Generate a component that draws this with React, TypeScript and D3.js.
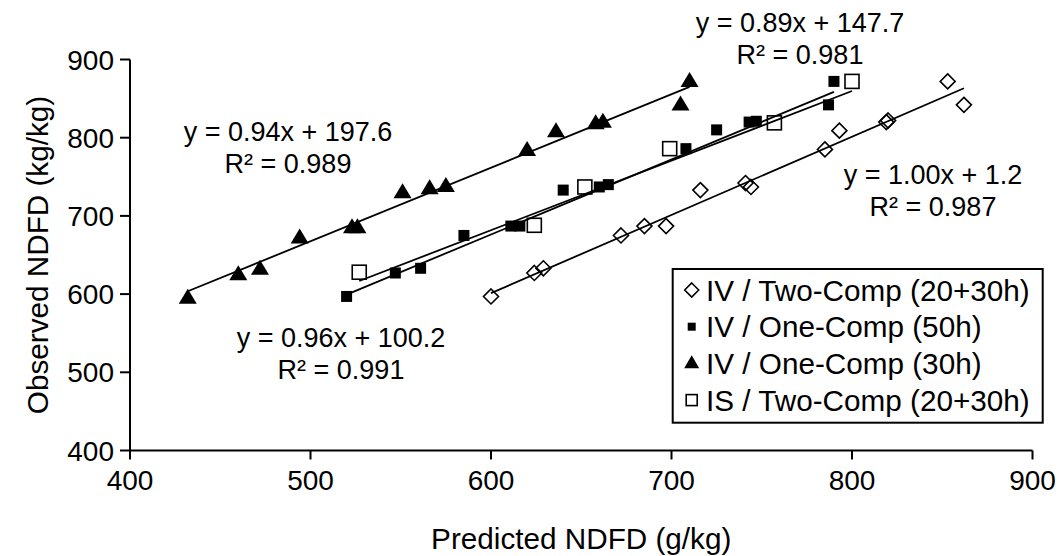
import React from "react";
import * as d3 from "d3";

// ---- data ----
const xTicks = [400, 500, 600, 700, 800, 900];
const yTicks = [400, 500, 600, 700, 800, 900];

const ivTwoComp: [number, number][] = [
  [600, 597], [624, 627], [629, 633], [672, 675], [685, 687], [697, 687], [716, 733],
  [741, 742], [744, 737], [785, 785], [793, 809], [819, 820], [820, 822], [853, 872], [862, 842],
];
const ivOne50: [number, number][] = [
  [520, 597], [547, 627], [561, 633], [585, 675], [611, 687], [616, 687], [640, 733],
  [660, 737], [665, 740], [708, 786], [725, 810], [743, 820], [747, 821], [787, 842], [790, 872],
];
const ivOne30: [number, number][] = [
  [432, 595], [460, 625], [472, 632], [494, 672], [523, 685], [526, 685], [551, 730],
  [566, 735], [575, 738], [620, 784], [636, 808], [658, 818], [662, 820], [705, 842], [710, 872],
];
const isTwoComp: [number, number][] = [
  [527, 628], [624, 688], [652, 737], [699, 786], [757, 819], [800, 872],
];

const seriesNames = [
  "IV / Two-Comp (20+30h)",
  "IV / One-Comp (50h)",
  "IV / One-Comp (30h)",
  "IS / Two-Comp (20+30h)",
];
const slopes = [1.0, 0.96, 0.94, 0.89];
const intercepts = [1.2, 100.2, 197.6, 147.7];
const r2Values = [0.987, 0.991, 0.989, 0.981];

const W = 1062;
const H = 556;
const FONT = "'Liberation Sans', Arial, Helvetica, sans-serif";

const x = d3.scaleLinear().domain([400, 900]).range([130, 1032.5]);
const y = d3.scaleLinear().domain([400, 900]).range([450.5, 59.5]);

type Kind = "diamond" | "fsquare" | "triangle" | "osquare";
const kinds: Kind[] = ["diamond", "fsquare", "triangle", "osquare"];
const allSeries = [ivTwoComp, ivOne50, ivOne30, isTwoComp];

function Marker({ kind, cx, cy, small }: { kind: Kind; cx: number; cy: number; small?: boolean }) {
  if (kind === "diamond") {
    const r = small ? 7 : 7.5;
    return (
      <path
        d={`M${cx},${cy - r}L${cx + r},${cy}L${cx},${cy + r}L${cx - r},${cy}Z`}
        fill="none" stroke="#000" strokeWidth={1.6}
      />
    );
  }
  if (kind === "fsquare") {
    const s = small ? 8 : 11;
    return <rect x={cx - s / 2} y={cy - s / 2} width={s} height={s} fill="#000" />;
  }
  if (kind === "triangle") {
    const w = small ? 15 : 18;
    const h = small ? 13 : 15;
    return (
      <path
        d={`M${cx},${cy - h * 0.62}L${cx + w / 2},${cy + h * 0.38}L${cx - w / 2},${cy + h * 0.38}Z`}
        fill="#000"
      />
    );
  }
  const s = small ? 11 : 14;
  return (
    <rect x={cx - s / 2} y={cy - s / 2} width={s} height={s} fill="none" stroke="#000" strokeWidth={1.6} />
  );
}

const eqPos = [
  { cx: 933, by: 184 },
  { cx: 341, by: 347 },
  { cx: 288, by: 141 },
  { cx: 800, by: 32 },
];

export default function App() {
  return (
    <svg width={W} height={H} style={{ position: "absolute", left: 0, top: 0, background: "#fff" }}
      fontFamily={FONT}>
      <rect x={0} y={0} width={W} height={H} fill="#fff" />
      {/* fit lines */}
      {allSeries.map((pts, i) => {
        const xs = pts.map((p) => p[0]);
        const x0 = d3.min(xs)!;
        const x1 = d3.max(xs)!;
        const f = (v: number) => slopes[i] * v + intercepts[i];
        return (
          <line key={"l" + i} x1={x(x0)} y1={y(f(x0))} x2={x(x1)} y2={y(f(x1))}
            stroke="#000" strokeWidth={1.8} />
        );
      })}
      {/* markers */}
      {allSeries.map((pts, i) =>
        pts.map((p, j) => <Marker key={i + "-" + j} kind={kinds[i]} cx={x(p[0])} cy={y(p[1])} />)
      )}
      {/* axes */}
      <line x1={x(400)} y1={y(400)} x2={x(900)} y2={y(400)} stroke="#000" strokeWidth={2} />
      <line x1={x(400)} y1={y(400)} x2={x(400)} y2={y(900)} stroke="#000" strokeWidth={2} />
      {xTicks.map((t) => (
        <g key={"xt" + t}>
          <line x1={x(t)} x2={x(t)} y1={y(400)} y2={y(400) + 9} stroke="#000" strokeWidth={2} />
          <text x={x(t)} y={490} textAnchor="middle" fontSize={28}>{t}</text>
        </g>
      ))}
      {yTicks.map((t) => (
        <g key={"yt" + t}>
          <line x1={x(400) - 10} x2={x(400)} y1={y(t)} y2={y(t)} stroke="#000" strokeWidth={2} />
          <text x={114} y={y(t) + 10} textAnchor="end" fontSize={28}>{t}</text>
        </g>
      ))}
      <text x={(x(400) + x(900)) / 2} y={549} textAnchor="middle" fontSize={29.7}>Predicted NDFD (g/kg)</text>
      <text transform={`translate(48,${(y(400) + y(900)) / 2}) rotate(-90)`} textAnchor="middle" fontSize={29.7}>
        Observed NDFD (kg/kg)
      </text>
      {/* equations */}
      {eqPos.map((p, i) => (
        <g key={"eq" + i}>
          <text x={p.cx} y={p.by} textAnchor="middle" fontSize={27}>
            {`y = ${slopes[i].toFixed(2)}x + ${intercepts[i].toFixed(1)}`}
          </text>
          <text x={p.cx} y={p.by + 32} textAnchor="middle" fontSize={27}>
            {`R² = ${r2Values[i].toFixed(3)}`}
          </text>
        </g>
      ))}
      {/* legend */}
      <rect x={672.7} y={269} width={370} height={153.7} fill="#fff" stroke="#000" strokeWidth={2} />
      {seriesNames.map((n, i) => {
        const cy = 290 + i * 36.7;
        return (
          <g key={"lg" + i}>
            <Marker kind={kinds[i]} cx={691.7} cy={cy} small />
            <text x={706} y={cy + 10.5} fontSize={29.7}>{n}</text>
          </g>
        );
      })}
    </svg>
  );
}
